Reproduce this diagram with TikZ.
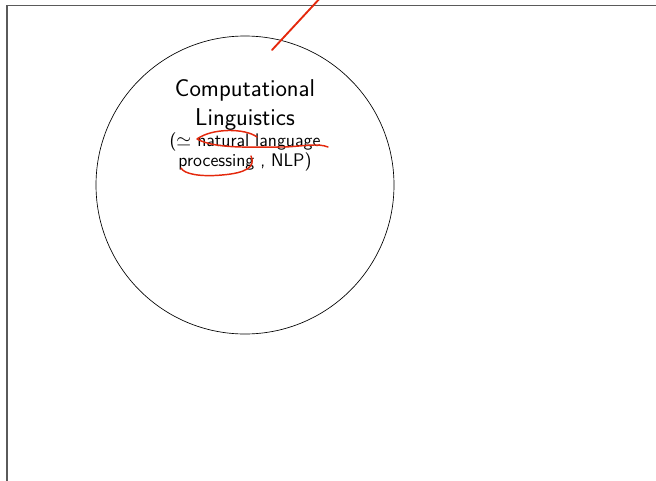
\documentclass[tikz,border=0pt]{standalone}
\usepackage{amssymb}
\definecolor{penred}{RGB}{228,40,12}
\definecolor{framegray}{RGB}{90,90,90}
\begin{document}
\begin{tikzpicture}[x=0.75bp,y=-0.75bp,
  ink/.style={draw=penred,line width=1.1pt,line cap=round,line join=round}]
\useasboundingbox (0,0) rectangle (656,481);
\draw[framegray,line width=1.1pt] (7,5.5) rectangle (700,520);

\node[draw,circle,minimum size=223.5bp,inner sep=0pt,line width=0.5pt] (field) at (245,185) {};

\node[font=\sffamily\fontsize{18.3}{22.5}\selectfont,align=center,inner sep=0pt] (title) at (245,105)
  {Computational\\ Linguistics};
\node[font=\sffamily\fontsize{13.7}{15}\selectfont,align=center,inner sep=0pt] (gloss) at (245,152)
  {($\simeq$ natural language\\ processing , NLP)};

% pen marks
\draw[ink,line width=1.4pt] (272,50) -- (322,-4);
\draw[ink] (257,137) .. controls (245,128) and (212,128) .. (197,139)
  .. controls (215,149) and (250,147) .. (285,147)
  .. controls (305,146) and (318,143) .. (328,147);
\draw[ink] (251,156) .. controls (256,167) and (246,173) .. (222,175)
  .. controls (200,177) and (184,174) .. (181,168);
\end{tikzpicture}
\end{document}
